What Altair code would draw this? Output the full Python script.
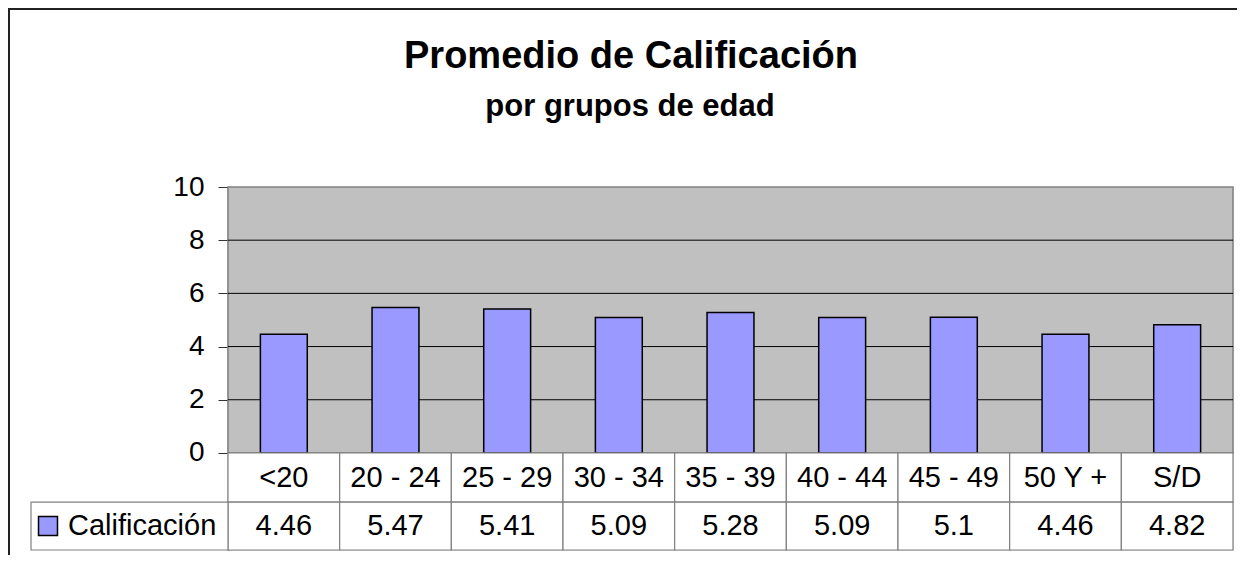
import altair as alt
import pandas as pd

# ---- data ----
categories = ["<20", "20 - 24", "25 - 29", "30 - 34", "35 - 39", "40 - 44", "45 - 49", "50 Y +", "S/D"]
values = [4.46, 5.47, 5.41, 5.09, 5.28, 5.09, 5.1, 4.46, 4.82]
series_name = "Calificación"
y_ticks = [0, 2, 4, 6, 8, 10]
title_text = "Promedio de Calificación"
subtitle_text = "por grupos de edad"

df = pd.DataFrame({"cat": categories, "val": values, "label": [str(v) for v in values]})
grid_df = pd.DataFrame({"g": [t for t in y_ticks if 0 < t < 10]})
one = pd.DataFrame({"k": [0]})

FONT = "Liberation Sans"
W, H = 1005, 363
ROW1 = -1.85   # bottom of category-label row (data units)
ROW2 = -3.65   # bottom of value row
BAR = "#9999FF"
LINE = "#808080"
TXT = 29

xs = alt.Scale(domain=categories, paddingInner=0, paddingOuter=0)
ys = alt.Scale(domain=[ROW2, 10], nice=False, zero=False)

yaxis = alt.Axis(values=y_ticks, grid=False, tickSize=10, tickColor="#333333",
                 domainColor="#555555", domainWidth=1.5, labelFontSize=28,
                 labelColor="#000000", labelPadding=14, labelFont=FONT, title=None)

plot_bg = alt.Chart(one).mark_rect(fill="#C0C0C0", stroke=LINE, strokeWidth=1.5).encode(
    x=alt.value(0), x2=alt.value(W),
    y=alt.YDatum(0, scale=ys, axis=yaxis, title=None), y2=alt.Y2Datum(10),
)

grid = alt.Chart(grid_df).mark_rule(color="#000000", strokeWidth=1).encode(
    y=alt.Y("g:Q", title=None), x=alt.value(0), x2=alt.value(W),
)

bars = alt.Chart(df).mark_bar(
    width=alt.RelativeBandSize(0.42), fill=BAR, stroke="#000000", strokeWidth=1.5
).encode(
    x=alt.X("cat:N", scale=xs, sort=categories, axis=None),
    y=alt.Y("val:Q", title=None),
)

cells1 = alt.Chart(df).mark_rect(fill="white", stroke=LINE, strokeWidth=1.2).encode(
    x=alt.X("cat:N", scale=xs, sort=categories, axis=None),
    y=alt.YDatum(0, title=None), y2=alt.Y2Datum(ROW1),
)
cells2 = alt.Chart(df).mark_rect(fill="white", stroke=LINE, strokeWidth=1.2).encode(
    x=alt.X("cat:N", scale=xs, sort=categories, axis=None),
    y=alt.YDatum(ROW1, title=None), y2=alt.Y2Datum(ROW2),
)
legend_cell = alt.Chart(one).mark_rect(fill="white", stroke=LINE, strokeWidth=1.2).encode(
    x=alt.value(-197), x2=alt.value(0),
    y=alt.YDatum(ROW1, title=None), y2=alt.Y2Datum(ROW2),
)

cat_text = alt.Chart(df).mark_text(fontSize=TXT, baseline="middle", align="center", color="#000000", font=FONT).encode(
    x=alt.X("cat:N", scale=xs, sort=categories, axis=None),
    y=alt.YDatum(ROW1 / 2, title=None),
    text="cat:N",
)
val_text = alt.Chart(df).mark_text(fontSize=TXT, baseline="middle", align="center", color="#000000", font=FONT).encode(
    x=alt.X("cat:N", scale=xs, sort=categories, axis=None),
    y=alt.YDatum((ROW1 + ROW2) / 2, title=None),
    text="label:N",
)

legend_sym = alt.Chart(one).mark_square(size=360, fill=BAR, stroke="#000000", strokeWidth=1.5, opacity=1).encode(
    x=alt.value(-180),
    y=alt.YDatum((ROW1 + ROW2) / 2, title=None),
)
legend_txt = alt.Chart(pd.DataFrame({"t": [series_name]})).mark_text(
    fontSize=TXT, baseline="middle", align="left", color="#000000", font=FONT
).encode(
    x=alt.value(-160),
    y=alt.YDatum((ROW1 + ROW2) / 2, title=None),
    text="t:N",
)

title_mark = alt.Chart(pd.DataFrame({"t": [title_text]})).mark_text(
    fontSize=38, fontWeight="bold", baseline="alphabetic", align="center", color="#000000", font=FONT
).encode(x=alt.value(403), y=alt.value(-119), text="t:N")
subtitle_mark = alt.Chart(pd.DataFrame({"t": [subtitle_text]})).mark_text(
    fontSize=31, fontWeight="bold", baseline="alphabetic", align="center", color="#000000", font=FONT
).encode(x=alt.value(402), y=alt.value(-71.5), text="t:N")

frame_left = alt.Chart(one).mark_rule(color="#222222", strokeWidth=2).encode(
    x=alt.value(-219), y=alt.value(-179), y2=alt.value(H + 30),
)
frame_top = alt.Chart(one).mark_rule(color="#222222", strokeWidth=2).encode(
    y=alt.value(-178), x=alt.value(-219), x2=alt.value(W + 10),
)

chart = alt.layer(
    plot_bg, grid, bars, cells1, cells2, legend_cell, cat_text, val_text,
    legend_sym, legend_txt, title_mark, subtitle_mark, frame_left, frame_top,
).properties(
    width=W, height=H,
    autosize=alt.AutoSizeParams(type="none"),
    padding={"left": 220, "top": 179, "right": 4, "bottom": 5},
).configure_view(stroke=None).configure(font=FONT)

chart.save("out.html", embed_options={"renderer": "svg", "actions": False})
